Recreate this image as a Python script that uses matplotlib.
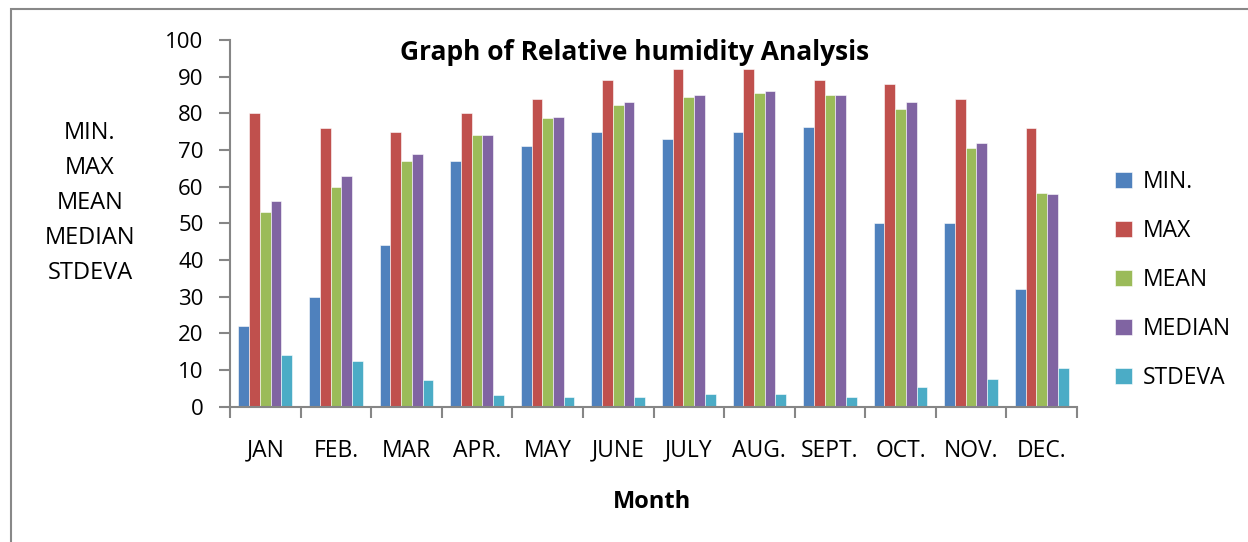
import numpy as np
import matplotlib
matplotlib.use('Agg')
import matplotlib.pyplot as plt
from matplotlib.patches import Rectangle

plt.rcParams['font.family'] = ['Open Sans', 'DejaVu Sans']

months = ['JAN', 'FEB.', 'MAR', 'APR.', 'MAY', 'JUNE', 'JULY', 'AUG.', 'SEPT.', 'OCT.', 'NOV.', 'DEC.']
series_names = ['MIN.', 'MAX', 'MEAN', 'MEDIAN', 'STDEVA']
rh_min = [22, 30, 44, 67, 71, 75, 73, 75, 76.3, 50, 50, 32]
rh_max = [80, 76, 75, 80, 84, 89, 92, 92, 89, 88, 84, 76]
rh_mean = [53.2, 60, 67, 74, 78.8, 82.3, 84.5, 85.6, 85, 81.1, 70.5, 58.3]
rh_median = [56, 63, 69, 74, 79, 83, 85, 86, 85, 83, 72, 58]
rh_stdeva = [14.1, 12.4, 7.3, 3.1, 2.6, 2.7, 3.4, 3.4, 2.7, 5.5, 7.5, 10.6]
colors = ['#4F81BD', '#C0504D', '#9BBB59', '#8064A2', '#4BACC6']

fig = plt.figure(figsize=(12.48, 5.42), dpi=100)
fig.patches.append(Rectangle((11/1248, -0.1), 1.2, 1 - 9/542 + 0.1, transform=fig.transFigure,
                             fill=False, edgecolor='#888888', lw=1.5))
ax = fig.add_axes([230/1248, 1 - 406.7/542, 847/1248, 366.7/542])

x = np.arange(len(months))
w = 0.152
data = [rh_min, rh_max, rh_mean, rh_median, rh_stdeva]
for i, (vals, name, c) in enumerate(zip(data, series_names, colors)):
    ax.bar(x + (i - 2) * w, vals, width=w, color=c, label=name, edgecolor='white', linewidth=0.4)

ax.set_xlim(-0.5, len(months) - 0.5)
ax.set_ylim(0, 100)
ax.set_yticks(np.arange(0, 101, 10))
ax.set_xticks(x)
ax.set_xticklabels(months)
ax.set_xticks(np.arange(-0.5, len(months)), minor=True)
ax.tick_params(axis='x', which='major', length=0, pad=23, labelsize=16.5)
ax.tick_params(axis='x', which='minor', length=8, width=1.5, color='#868686', direction='out')
ax.tick_params(axis='y', length=8, width=1.5, color='#868686', pad=11, labelsize=16)
for s in ['top', 'right']:
    ax.spines[s].set_visible(False)
for s in ['left', 'bottom']:
    ax.spines[s].set_color('#868686')
    ax.spines[s].set_linewidth(1.5)

fig.text(635/1248, 1 - 53/542, 'Graph of Relative humidity Analysis', ha='center', va='center',
         fontsize=19, fontweight='bold')
fig.text(90/1248, 1 - 203/542, 'MIN.\nMAX\nMEAN\nMEDIAN\nSTDEVA', ha='center', va='center',
         fontsize=17, linespacing=1.6)
fig.text(652/1248, 1 - 502/542, 'Month', ha='center', va='center', fontsize=17, fontweight='bold')

ax.legend(loc='center left', bbox_to_anchor=(1104/1248, 1 - 280/542), bbox_transform=fig.transFigure,
          frameon=False, fontsize=16.5, handlelength=0.7, handleheight=0.7, labelspacing=1.1,
          handletextpad=0.5, borderpad=0)

fig.savefig('out.png', dpi=100)
